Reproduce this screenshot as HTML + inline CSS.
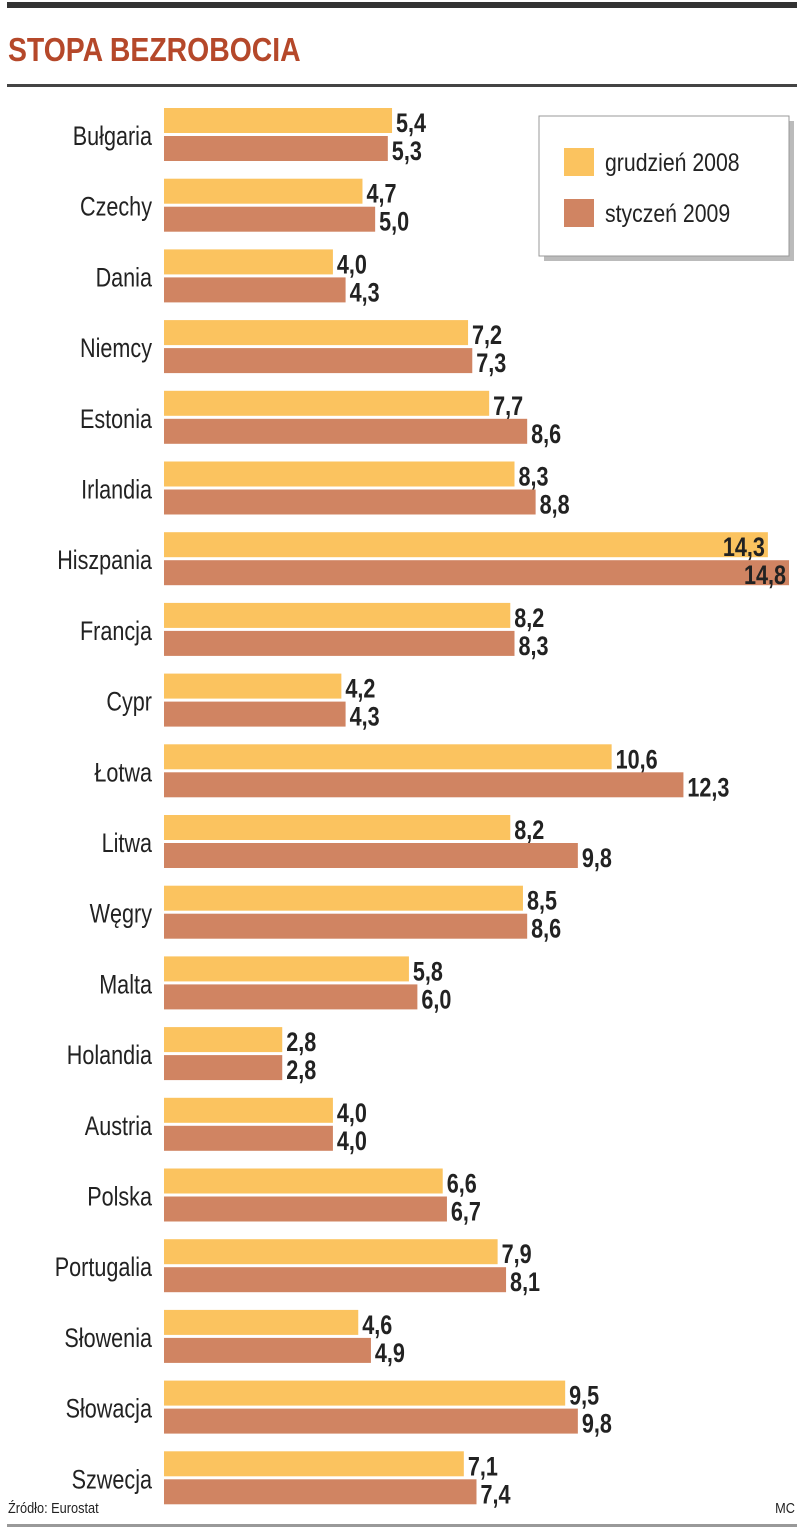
<!DOCTYPE html>
<html><head><meta charset="utf-8"><style>
html,body{margin:0;padding:0;background:#fff;}
svg{display:block;font-family:"Liberation Sans",sans-serif;}
</style></head><body>
<svg id="chart" width="805" height="1528" viewBox="0 0 805 1528">
<rect x="7" y="2" width="790" height="6" fill="#333"/>
<text x="8" y="61" font-size="33" font-weight="bold" fill="#b5482a" transform="translate(8 0) scale(0.86 1) translate(-8 0)">STOPA BEZROBOCIA</text>
<rect x="7" y="84" width="790" height="3" fill="#444"/>
<g id="bars"></g>
<g>
<rect x="544" y="121" width="250" height="140" fill="#bbb"/>
<rect x="539" y="116" width="250" height="140" fill="#fff" stroke="#999" stroke-width="1"/>
<rect x="564" y="148" width="30" height="28" fill="#fbc35f"/>
<text x="605" y="171" font-size="25" fill="#222" transform="translate(605 0) scale(0.85 1) translate(-605 0)">grudzień 2008</text>
<rect x="564" y="199" width="30" height="28" fill="#d08462"/>
<text x="605" y="222" font-size="25" fill="#222" transform="translate(605 0) scale(0.85 1) translate(-605 0)">styczeń 2009</text>
</g>
<text x="8" y="1513" font-size="15" fill="#222" transform="translate(8 0) scale(0.85 1) translate(-8 0)">Źródło: Eurostat</text>
<text x="795" y="1513" font-size="15" fill="#222" text-anchor="end" transform="translate(795 0) scale(0.85 1) translate(-795 0)">MC</text>
<rect x="7" y="1524" width="790" height="3" fill="#999"/>
</svg>
<script>
const countries=["Bułgaria","Czechy","Dania","Niemcy","Estonia","Irlandia","Hiszpania","Francja","Cypr","Łotwa","Litwa","Węgry","Malta","Holandia","Austria","Polska","Portugalia","Słowenia","Słowacja","Szwecja"];
const dec2008=[5.4,4.7,4.0,7.2,7.7,8.3,14.3,8.2,4.2,10.6,8.2,8.5,5.8,2.8,4.0,6.6,7.9,4.6,9.5,7.1];
const jan2009=[5.3,5.0,4.3,7.3,8.6,8.8,14.8,8.3,4.3,12.3,9.8,8.6,6.0,2.8,4.0,6.7,8.1,4.9,9.8,7.4];
const NS="http://www.w3.org/2000/svg";
const x0=164, scale=(789-164)/14.8;
const xs=v=>v*scale;
const rowY=i=>108+i*70.7;
const g=document.getElementById('bars');
function mk(tag,attrs){const e=document.createElementNS(NS,tag);for(const k in attrs)e.setAttribute(k,attrs[k]);return e;}
function fmt(v){return v.toFixed(1).replace('.',',');}
countries.forEach((c,i)=>{
  const y=rowY(i);
  const lab=mk('text',{x:152,y:y+37,'font-size':27,fill:'#222','text-anchor':'end',transform:`translate(152 0) scale(0.8 1) translate(-152 0)`});
  lab.textContent=c;
  
  
  g.appendChild(lab);
  [[dec2008[i],'#fbc35f',y,'bar-2008'],[jan2009[i],'#d08462',y+28,'bar-2009']].forEach(([v,col,by,nm])=>{
    const w=xs(v);
    const r=mk('rect',{x:x0,y:by,width:w,height:25,fill:col});
    
    
    g.appendChild(r);
    const inside=x0+w+45>800;
    const tx=inside?x0+w-3:x0+w+4;
    const t=mk('text',{x:tx,y:by+24,'font-size':27,'font-weight':'bold',fill:'#222','text-anchor':inside?'end':'start',transform:`translate(${tx} 0) scale(0.8 1) translate(${-tx} 0)`});
    t.textContent=fmt(v);
    
    
    g.appendChild(t);
  });
});
</script>
</body></html>
